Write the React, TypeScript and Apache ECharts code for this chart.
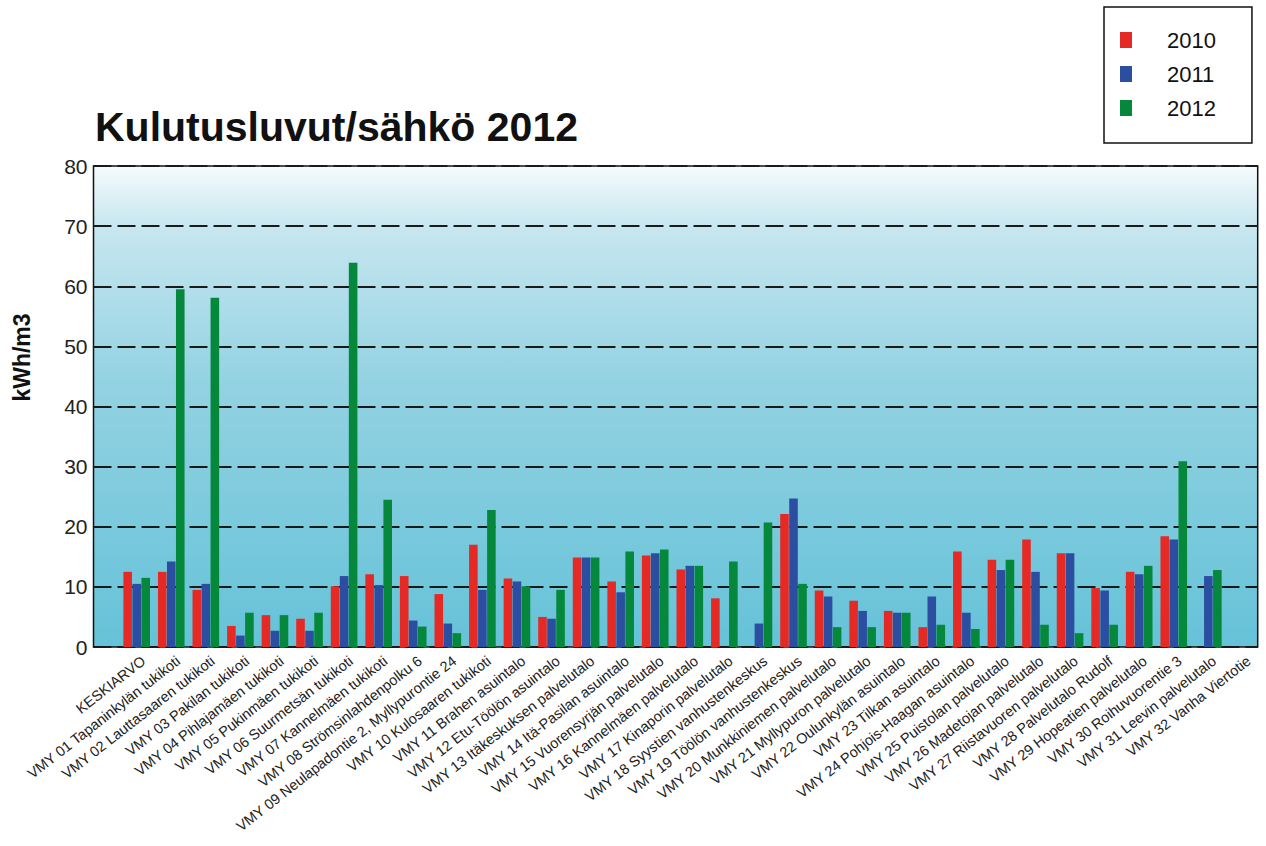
import React, { useEffect, useRef } from "react";
import * as echarts from "echarts";

const categories = [
  "KESKIARVO",
  "VMY 01 Tapaninkylän tukikoti",
  "VMY 02 Lauttasaaren tukikoti",
  "VMY 03 Pakilan tukikoti",
  "VMY 04 Pihlajamäen tukikoti",
  "VMY 05 Pukinmäen tukikoti",
  "VMY 06 Suurmetsän tukikoti",
  "VMY 07 Kannelmäen tukikoti",
  "VMY 08 Strömsinlahdenpolku 6",
  "VMY 09 Neulapadontie 2, Myllypurontie 24",
  "VMY 10 Kulosaaren tukikoti",
  "VMY 11 Brahen asuintalo",
  "VMY 12 Etu-Töölön asuintalo",
  "VMY 13 Itäkeskuksen palvelutalo",
  "VMY 14 Itä-Pasilan asuintalo",
  "VMY 15 Vuorensyrjän palvelutalo",
  "VMY 16 Kannelmäen palvelutalo",
  "VMY 17 Kinaporin palvelutalo",
  "VMY 18 Syystien vanhustenkeskus",
  "VMY 19 Töölön vanhustenkeskus",
  "VMY 20 Munkkiniemen palvelutalo",
  "VMY 21 Myllypuron palvelutalo",
  "VMY 22 Oulunkylän asuintalo",
  "VMY 23 Tilkan asuintalo",
  "VMY 24 Pohjois-Haagan asuintalo",
  "VMY 25 Puistolan palvelutalo",
  "VMY 26 Madetojan palvelutalo",
  "VMY 27 Riistavuoren palvelutalo",
  "VMY 28 Palvelutalo Rudolf",
  "VMY 29 Hopeatien palvelutalo",
  "VMY 30 Roihuvuorentie 3",
  "VMY 31 Leevin palvelutalo",
  "VMY 32 Vanha Viertotie",
];

const values2010 = [12.5, 12.5, 9.5, 3.5, 5.3, 4.7, 10.1, 12.1, 11.8, 8.8, 17.0, 11.4, 5.0, 14.9, 10.9, 15.2, 12.9, 8.1, null, 22.1, 9.4, 7.7, 6.0, 3.3, 15.9, 14.5, 17.9, 15.6, 9.8, 12.5, 18.4, null, null];
const values2011 = [10.5, 14.2, 10.5, 1.9, 2.7, 2.7, 11.8, 10.3, 4.4, 3.9, 9.5, 10.9, 4.7, 14.9, 9.1, 15.6, 13.5, null, 3.9, 24.7, 8.4, 6.0, 5.7, 8.4, 5.7, 12.8, 12.5, 15.6, 9.4, 12.1, 17.9, 11.8, null];
const values2012 = [11.5, 59.5, 58.1, 5.7, 5.3, 5.7, 63.9, 24.5, 3.4, 2.3, 22.8, 10.1, 9.5, 14.9, 15.9, 16.2, 13.5, 14.2, 20.7, 10.5, 3.3, 3.3, 5.7, 3.7, 3.0, 14.5, 3.7, 2.3, 3.7, 13.5, 30.9, 12.8, null];

const seriesNames = ["2010", "2011", "2012"];
const seriesColors = ["#e52a26", "#2c4ea1", "#05883c"];
const yTicks = { min: 0, max: 80, interval: 10 };

const FONT = "'Liberation Sans', Arial, sans-serif";

export default function App() {
  const ref = useRef<HTMLDivElement>(null);
  useEffect(() => {
    if (!ref.current) return;
    const chart = echarts.init(ref.current, null, { renderer: "svg" });
    const all = [values2010, values2011, values2012];
    chart.setOption({
      animation: false,
      backgroundColor: "#ffffff",
      textStyle: { fontFamily: FONT },
      title: {
        text: "Kulutusluvut/sähkö 2012",
        left: 90,
        top: 101,
        textStyle: { fontFamily: FONT, fontSize: 41, fontWeight: "bold", color: "#111" },
      },
      legend: {
        data: seriesNames,
        orient: "vertical",
        left: 1104,
        top: 7,
        icon: "rect",
        itemWidth: 12,
        itemHeight: 16,
        itemGap: 12,
        borderColor: "#111",
        borderWidth: 1.5,
        padding: [22, 36, 24, 16],
        textStyle: { fontFamily: FONT, fontSize: 22, color: "#111", padding: [0, 0, 0, 30] },
      },
      grid: [
        {
          left: 93.5,
          right: 8.3,
          top: 166,
          bottom: 199,
          show: true,
          borderColor: "#111",
          borderWidth: 1.5,
          backgroundColor: new echarts.graphic.LinearGradient(0, 0, 0, 1, [
            { offset: 0, color: "#f6fbfd" },
            { offset: 0.12, color: "#c8e7f0" },
            { offset: 0.45, color: "#93d2e2" },
            { offset: 1, color: "#65c2d8" },
          ]),
        },
        { left: 119.4, right: 5.8, top: 166, bottom: 199, show: false },
        { left: 126.4, right: -1.2, top: 166, bottom: 199, show: false },
      ],
      xAxis: [
        { gridIndex: 0, type: "category", data: categories, show: false },
        {
          gridIndex: 1,
          type: "category",
          data: categories,
          axisLine: { show: false },
          axisTick: { show: false },
          axisLabel: { show: false },
        },
        {
          gridIndex: 2,
          type: "category",
          data: categories,
          axisLine: { show: false },
          axisTick: { show: false },
          axisLabel: {
            interval: 0,
            rotate: 38,
            fontSize: 14.5,
            fontFamily: FONT,
            color: "#222",
            margin: 12,
          },
        },
      ],
      yAxis: [
        {
          gridIndex: 0,
          type: "value",
          min: yTicks.min,
          max: yTicks.max,
          interval: yTicks.interval,
          name: "kWh/m3",
          nameLocation: "middle",
          nameRotate: 90,
          nameGap: 60,
          nameTextStyle: {
            fontFamily: FONT,
            fontSize: 23,
            fontWeight: "bold",
            color: "#111",
            padding: [0, 0, 0, 98],
          },
          axisLine: { show: false },
          axisTick: { show: false },
          axisLabel: { fontSize: 21, fontFamily: FONT, color: "#222", margin: 6 },
          splitLine: {
            show: true,
            lineStyle: { color: "#1a1a1a", width: 2, type: [18, 6] },
          },
        },
        { gridIndex: 1, type: "value", min: yTicks.min, max: yTicks.max, show: false },
        { gridIndex: 2, type: "value", min: yTicks.min, max: yTicks.max, show: false },
      ],
      series: seriesNames.map((name, i) => ({
        name,
        type: "bar",
        xAxisIndex: 1,
        yAxisIndex: 1,
        data: all[i],
        barCategoryGap: "23%",
        barGap: "5%",
        itemStyle: { color: seriesColors[i] },
      })),
    });
    return () => chart.dispose();
  }, []);
  return (
    <div
      ref={ref}
      style={{ position: "fixed", left: 0, top: 0, width: 1266, height: 846 }}
    />
  );
}
